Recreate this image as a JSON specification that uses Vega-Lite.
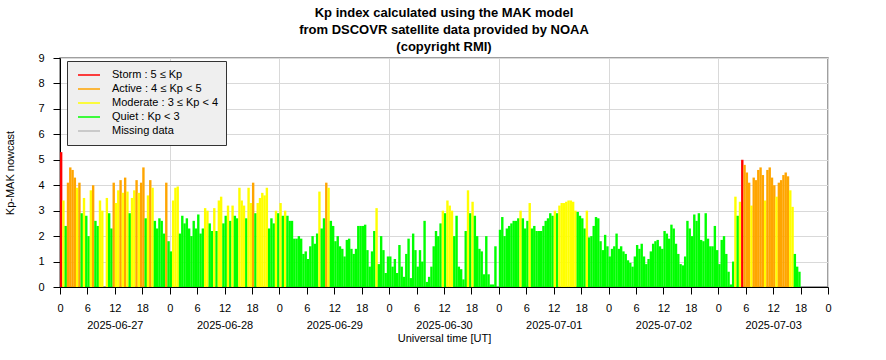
{
  "$schema": "https://vega.github.io/schema/vega-lite/v6.json",
  "width": 768,
  "height": 229,
  "autosize": "none",
  "padding": {"left": 60, "top": 58, "right": 58, "bottom": 73},
  "background": "white",
  "title": {
    "text": ["Kp index calculated using the MAK model", "from DSCOVR satellite data provided by NOAA", "(copyright RMI)"],
    "font": "Liberation Sans", "fontSize": 13, "fontWeight": "bold", "lineHeight": 17,
    "anchor": "middle", "frame": "group", "offset": -2, "color": "black"
  },
  "config": {
    "view": {"stroke": "#808080", "strokeWidth": 1.5},
    "font": "Liberation Sans"
  },
  "layer": [
    {
      "data": {"values": [
        {"t":"2025-06-27T00:00Z","kp":5.3},{"t":"2025-06-27T00:30Z","kp":3.4},{"t":"2025-06-27T01:00Z","kp":2.4},{"t":"2025-06-27T01:30Z","kp":4.1},
        {"t":"2025-06-27T02:00Z","kp":4.7},{"t":"2025-06-27T02:30Z","kp":4.6},{"t":"2025-06-27T03:00Z","kp":4.3},{"t":"2025-06-27T03:30Z","kp":3.9},
        {"t":"2025-06-27T04:00Z","kp":4.1},{"t":"2025-06-27T04:30Z","kp":2.9},{"t":"2025-06-27T05:00Z","kp":3.5},{"t":"2025-06-27T05:30Z","kp":2.8},
        {"t":"2025-06-27T06:00Z","kp":2.0},{"t":"2025-06-27T06:30Z","kp":3.8},{"t":"2025-06-27T07:00Z","kp":4.0},{"t":"2025-06-27T07:30Z","kp":2.6},
        {"t":"2025-06-27T08:00Z","kp":2.4},{"t":"2025-06-27T08:30Z","kp":3.4},{"t":"2025-06-27T09:00Z","kp":3.0},
        {"t":"2025-06-27T10:00Z","kp":3.5},{"t":"2025-06-27T10:30Z","kp":2.9},{"t":"2025-06-27T11:00Z","kp":2.3},{"t":"2025-06-27T11:30Z","kp":4.1},
        {"t":"2025-06-27T12:00Z","kp":3.3},{"t":"2025-06-27T12:30Z","kp":3.8},{"t":"2025-06-27T13:00Z","kp":4.2},{"t":"2025-06-27T13:30Z","kp":3.7},
        {"t":"2025-06-27T14:00Z","kp":4.3},{"t":"2025-06-27T14:30Z","kp":3.75},{"t":"2025-06-27T15:00Z","kp":2.9},{"t":"2025-06-27T15:30Z","kp":3.5},
        {"t":"2025-06-27T16:00Z","kp":3.8},{"t":"2025-06-27T16:30Z","kp":4.2},{"t":"2025-06-27T17:00Z","kp":3.7},{"t":"2025-06-27T17:30Z","kp":4.1},
        {"t":"2025-06-27T18:00Z","kp":4.7},{"t":"2025-06-27T18:30Z","kp":2.7},{"t":"2025-06-27T19:00Z","kp":3.6},{"t":"2025-06-27T19:30Z","kp":4.2},
        {"t":"2025-06-27T20:00Z","kp":3.9},{"t":"2025-06-27T20:30Z","kp":2.6},{"t":"2025-06-27T21:00Z","kp":2.3},{"t":"2025-06-27T21:30Z","kp":2.7},
        {"t":"2025-06-27T22:00Z","kp":2.6},{"t":"2025-06-27T22:30Z","kp":2.1},{"t":"2025-06-27T23:00Z","kp":4.1},{"t":"2025-06-27T23:30Z","kp":1.8},
        {"t":"2025-06-28T00:00Z","kp":1.4},{"t":"2025-06-28T00:30Z","kp":3.4},{"t":"2025-06-28T01:00Z","kp":3.9},{"t":"2025-06-28T01:30Z","kp":3.95},
        {"t":"2025-06-28T02:00Z","kp":2.1},{"t":"2025-06-28T02:30Z","kp":2.8},{"t":"2025-06-28T03:00Z","kp":2.5},{"t":"2025-06-28T03:30Z","kp":2.7},
        {"t":"2025-06-28T04:00Z","kp":2.3},{"t":"2025-06-28T04:30Z","kp":2.0},{"t":"2025-06-28T05:00Z","kp":2.6},{"t":"2025-06-28T05:30Z","kp":2.3},
        {"t":"2025-06-28T06:00Z","kp":2.85},{"t":"2025-06-28T06:30Z","kp":2.1},{"t":"2025-06-28T07:00Z","kp":2.3},{"t":"2025-06-28T07:30Z","kp":3.1},
        {"t":"2025-06-28T08:00Z","kp":3.0},{"t":"2025-06-28T08:30Z","kp":2.5},{"t":"2025-06-28T09:00Z","kp":2.2},{"t":"2025-06-28T09:30Z","kp":3.1},
        {"t":"2025-06-28T10:00Z","kp":2.2},{"t":"2025-06-28T10:30Z","kp":3.4},{"t":"2025-06-28T11:00Z","kp":3.55},{"t":"2025-06-28T11:30Z","kp":2.5},
        {"t":"2025-06-28T12:00Z","kp":2.8},{"t":"2025-06-28T12:30Z","kp":3.2},{"t":"2025-06-28T13:00Z","kp":2.6},{"t":"2025-06-28T13:30Z","kp":3.2},
        {"t":"2025-06-28T14:00Z","kp":2.8},{"t":"2025-06-28T14:30Z","kp":2.7},{"t":"2025-06-28T15:00Z","kp":3.9},{"t":"2025-06-28T15:30Z","kp":3.4},
        {"t":"2025-06-28T16:00Z","kp":3.2},{"t":"2025-06-28T16:30Z","kp":2.7},{"t":"2025-06-28T17:00Z","kp":3.9},{"t":"2025-06-28T17:30Z","kp":3.3},
        {"t":"2025-06-28T18:00Z","kp":4.1},{"t":"2025-06-28T18:30Z","kp":2.9},{"t":"2025-06-28T19:00Z","kp":3.3},{"t":"2025-06-28T19:30Z","kp":3.5},
        {"t":"2025-06-28T20:00Z","kp":3.7},{"t":"2025-06-28T20:30Z","kp":3.6},{"t":"2025-06-28T21:00Z","kp":3.9},{"t":"2025-06-28T21:30Z","kp":2.3},
        {"t":"2025-06-28T22:00Z","kp":2.7},{"t":"2025-06-28T22:30Z","kp":2.5},{"t":"2025-06-28T23:00Z","kp":3.0},{"t":"2025-06-28T23:30Z","kp":2.9},
        {"t":"2025-06-29T00:00Z","kp":3.3},{"t":"2025-06-29T00:30Z","kp":2.8},{"t":"2025-06-29T01:00Z","kp":3.0},{"t":"2025-06-29T01:30Z","kp":2.8},
        {"t":"2025-06-29T02:00Z","kp":2.6},{"t":"2025-06-29T02:30Z","kp":2.6},{"t":"2025-06-29T03:00Z","kp":1.9},{"t":"2025-06-29T03:30Z","kp":1.9},
        {"t":"2025-06-29T04:00Z","kp":2.0},{"t":"2025-06-29T04:30Z","kp":1.9},{"t":"2025-06-29T05:00Z","kp":1.3},{"t":"2025-06-29T05:30Z","kp":1.4},
        {"t":"2025-06-29T06:00Z","kp":1.1},{"t":"2025-06-29T06:30Z","kp":1.6},{"t":"2025-06-29T07:00Z","kp":2.0},{"t":"2025-06-29T07:30Z","kp":1.7},
        {"t":"2025-06-29T08:00Z","kp":2.1},{"t":"2025-06-29T08:30Z","kp":3.75},{"t":"2025-06-29T09:00Z","kp":2.3},{"t":"2025-06-29T09:30Z","kp":2.7},
        {"t":"2025-06-29T10:00Z","kp":4.1},{"t":"2025-06-29T10:30Z","kp":3.9},{"t":"2025-06-29T11:00Z","kp":2.6},{"t":"2025-06-29T11:30Z","kp":2.4},
        {"t":"2025-06-29T12:00Z","kp":1.8},{"t":"2025-06-29T12:30Z","kp":2.0},{"t":"2025-06-29T13:00Z","kp":1.6},{"t":"2025-06-29T13:30Z","kp":1.5},
        {"t":"2025-06-29T14:00Z","kp":1.2},{"t":"2025-06-29T14:30Z","kp":1.85},{"t":"2025-06-29T15:00Z","kp":1.9},{"t":"2025-06-29T15:30Z","kp":1.5},
        {"t":"2025-06-29T16:00Z","kp":1.3},{"t":"2025-06-29T16:30Z","kp":1.5},{"t":"2025-06-29T17:00Z","kp":2.4},{"t":"2025-06-29T17:30Z","kp":2.4},
        {"t":"2025-06-29T18:00Z","kp":2.4},{"t":"2025-06-29T18:30Z","kp":2.45},{"t":"2025-06-29T19:00Z","kp":1.45},{"t":"2025-06-29T19:30Z","kp":0.8},
        {"t":"2025-06-29T20:00Z","kp":1.4},{"t":"2025-06-29T20:30Z","kp":2.2},{"t":"2025-06-29T21:00Z","kp":3.1},{"t":"2025-06-29T21:30Z","kp":0.9},
        {"t":"2025-06-29T22:00Z","kp":2.0},{"t":"2025-06-29T22:30Z","kp":1.45},{"t":"2025-06-29T23:00Z","kp":0.55},{"t":"2025-06-29T23:30Z","kp":1.2},
        {"t":"2025-06-30T00:00Z","kp":1.2},{"t":"2025-06-30T00:30Z","kp":0.8},{"t":"2025-06-30T01:00Z","kp":1.1},{"t":"2025-06-30T01:30Z","kp":0.55},
        {"t":"2025-06-30T02:00Z","kp":1.65},{"t":"2025-06-30T02:30Z","kp":0.8},{"t":"2025-06-30T03:00Z","kp":0.4},{"t":"2025-06-30T03:30Z","kp":1.3},
        {"t":"2025-06-30T04:00Z","kp":1.9},{"t":"2025-06-30T04:30Z","kp":0.35},{"t":"2025-06-30T05:00Z","kp":2.1},{"t":"2025-06-30T05:30Z","kp":1.45},
        {"t":"2025-06-30T06:00Z","kp":0.8},{"t":"2025-06-30T06:30Z","kp":1.45},{"t":"2025-06-30T07:00Z","kp":1.0},{"t":"2025-06-30T07:30Z","kp":2.6},
        {"t":"2025-06-30T08:00Z","kp":0.2},{"t":"2025-06-30T08:30Z","kp":0.4},{"t":"2025-06-30T09:00Z","kp":0.8},{"t":"2025-06-30T09:30Z","kp":1.6},
        {"t":"2025-06-30T10:00Z","kp":2.2},{"t":"2025-06-30T10:30Z","kp":2.0},{"t":"2025-06-30T11:00Z","kp":2.5},{"t":"2025-06-30T11:30Z","kp":3.0},
        {"t":"2025-06-30T12:00Z","kp":2.9},{"t":"2025-06-30T12:30Z","kp":3.4},{"t":"2025-06-30T13:00Z","kp":3.2},{"t":"2025-06-30T13:30Z","kp":3.0},
        {"t":"2025-06-30T14:00Z","kp":2.0},{"t":"2025-06-30T14:30Z","kp":2.8},{"t":"2025-06-30T15:00Z","kp":0.8},{"t":"2025-06-30T15:30Z","kp":0.7},
        {"t":"2025-06-30T16:00Z","kp":0.3},{"t":"2025-06-30T16:30Z","kp":2.2},{"t":"2025-06-30T17:00Z","kp":3.8},{"t":"2025-06-30T17:30Z","kp":2.9},
        {"t":"2025-06-30T18:00Z","kp":3.35},{"t":"2025-06-30T18:30Z","kp":2.8},{"t":"2025-06-30T19:00Z","kp":2.0},{"t":"2025-06-30T19:30Z","kp":1.5},
        {"t":"2025-06-30T20:00Z","kp":1.4},{"t":"2025-06-30T20:30Z","kp":0.5},{"t":"2025-06-30T21:00Z","kp":2.0},{"t":"2025-06-30T21:30Z","kp":0.5},
        {"t":"2025-06-30T22:00Z","kp":0.1},{"t":"2025-06-30T22:30Z","kp":0.1},{"t":"2025-06-30T23:00Z","kp":1.6},
        {"t":"2025-07-01T00:00Z","kp":2.25},{"t":"2025-07-01T00:30Z","kp":2.75},{"t":"2025-07-01T01:00Z","kp":2.0},{"t":"2025-07-01T01:30Z","kp":2.3},
        {"t":"2025-07-01T02:00Z","kp":2.4},{"t":"2025-07-01T02:30Z","kp":2.5},{"t":"2025-07-01T03:00Z","kp":2.6},{"t":"2025-07-01T03:30Z","kp":2.6},
        {"t":"2025-07-01T04:00Z","kp":2.7},{"t":"2025-07-01T04:30Z","kp":3.0},{"t":"2025-07-01T05:00Z","kp":2.7},{"t":"2025-07-01T05:30Z","kp":2.3},
        {"t":"2025-07-01T06:00Z","kp":2.6},{"t":"2025-07-01T06:30Z","kp":3.3},{"t":"2025-07-01T07:00Z","kp":2.3},{"t":"2025-07-01T07:30Z","kp":2.4},
        {"t":"2025-07-01T08:00Z","kp":2.2},{"t":"2025-07-01T08:30Z","kp":2.2},{"t":"2025-07-01T09:00Z","kp":2.2},{"t":"2025-07-01T09:30Z","kp":2.4},
        {"t":"2025-07-01T10:00Z","kp":2.6},{"t":"2025-07-01T10:30Z","kp":2.7},{"t":"2025-07-01T11:00Z","kp":2.9},{"t":"2025-07-01T11:30Z","kp":2.8},
        {"t":"2025-07-01T12:00Z","kp":3.0},{"t":"2025-07-01T12:30Z","kp":2.9},{"t":"2025-07-01T13:00Z","kp":3.2},{"t":"2025-07-01T13:30Z","kp":3.3},
        {"t":"2025-07-01T14:00Z","kp":3.3},{"t":"2025-07-01T14:30Z","kp":3.35},{"t":"2025-07-01T15:00Z","kp":3.4},{"t":"2025-07-01T15:30Z","kp":3.4},
        {"t":"2025-07-01T16:00Z","kp":3.35},{"t":"2025-07-01T16:30Z","kp":3.0},{"t":"2025-07-01T17:00Z","kp":2.95},{"t":"2025-07-01T17:30Z","kp":2.8},
        {"t":"2025-07-01T18:00Z","kp":2.7},{"t":"2025-07-01T18:30Z","kp":2.3},{"t":"2025-07-01T19:00Z","kp":3.0},{"t":"2025-07-01T19:30Z","kp":1.95},
        {"t":"2025-07-01T20:00Z","kp":2.0},{"t":"2025-07-01T20:30Z","kp":2.4},{"t":"2025-07-01T21:00Z","kp":2.75},{"t":"2025-07-01T21:30Z","kp":2.7},
        {"t":"2025-07-01T22:00Z","kp":1.8},{"t":"2025-07-01T22:30Z","kp":1.45},{"t":"2025-07-01T23:00Z","kp":2.05},{"t":"2025-07-01T23:30Z","kp":1.6},
        {"t":"2025-07-02T00:00Z","kp":1.2},{"t":"2025-07-02T00:30Z","kp":1.5},{"t":"2025-07-02T01:00Z","kp":1.6},{"t":"2025-07-02T01:30Z","kp":2.1},
        {"t":"2025-07-02T02:00Z","kp":1.5},{"t":"2025-07-02T02:30Z","kp":1.6},{"t":"2025-07-02T03:00Z","kp":1.4},{"t":"2025-07-02T03:30Z","kp":1.3},
        {"t":"2025-07-02T04:00Z","kp":1.05},{"t":"2025-07-02T04:30Z","kp":0.95},{"t":"2025-07-02T05:00Z","kp":0.8},{"t":"2025-07-02T05:30Z","kp":1.2},
        {"t":"2025-07-02T06:00Z","kp":1.65},{"t":"2025-07-02T06:30Z","kp":1.5},{"t":"2025-07-02T07:00Z","kp":1.7},{"t":"2025-07-02T07:30Z","kp":1.2},
        {"t":"2025-07-02T08:00Z","kp":0.9},{"t":"2025-07-02T08:30Z","kp":1.1},{"t":"2025-07-02T09:00Z","kp":1.4},{"t":"2025-07-02T09:30Z","kp":1.7},
        {"t":"2025-07-02T10:00Z","kp":1.8},{"t":"2025-07-02T10:30Z","kp":1.85},{"t":"2025-07-02T11:00Z","kp":1.6},{"t":"2025-07-02T11:30Z","kp":1.5},
        {"t":"2025-07-02T12:00Z","kp":2.2},{"t":"2025-07-02T12:30Z","kp":2.1},{"t":"2025-07-02T13:00Z","kp":1.9},{"t":"2025-07-02T13:30Z","kp":2.45},
        {"t":"2025-07-02T14:00Z","kp":2.3},{"t":"2025-07-02T14:30Z","kp":1.7},{"t":"2025-07-02T15:00Z","kp":1.3},{"t":"2025-07-02T15:30Z","kp":0.9},
        {"t":"2025-07-02T16:00Z","kp":0.85},{"t":"2025-07-02T16:30Z","kp":1.2},{"t":"2025-07-02T17:00Z","kp":2.6},{"t":"2025-07-02T17:30Z","kp":2.3},
        {"t":"2025-07-02T18:00Z","kp":2.0},{"t":"2025-07-02T18:30Z","kp":2.85},{"t":"2025-07-02T19:00Z","kp":2.6},{"t":"2025-07-02T19:30Z","kp":2.9},
        {"t":"2025-07-02T20:00Z","kp":1.85},{"t":"2025-07-02T20:30Z","kp":1.8},{"t":"2025-07-02T21:00Z","kp":2.9},{"t":"2025-07-02T21:30Z","kp":1.9},
        {"t":"2025-07-02T22:00Z","kp":1.6},{"t":"2025-07-02T22:30Z","kp":1.6},{"t":"2025-07-02T23:00Z","kp":2.4},{"t":"2025-07-02T23:30Z","kp":1.45},
        {"t":"2025-07-03T00:00Z","kp":0.9},{"t":"2025-07-03T00:30Z","kp":1.85},{"t":"2025-07-03T01:00Z","kp":2.0},{"t":"2025-07-03T01:30Z","kp":1.3},
        {"t":"2025-07-03T02:00Z","kp":0.6},{"t":"2025-07-03T02:30Z","kp":0.1},{"t":"2025-07-03T03:00Z","kp":1.0},{"t":"2025-07-03T03:30Z","kp":3.55},
        {"t":"2025-07-03T04:00Z","kp":2.8},{"t":"2025-07-03T04:30Z","kp":3.35},{"t":"2025-07-03T05:00Z","kp":5.0},{"t":"2025-07-03T05:30Z","kp":4.8},
        {"t":"2025-07-03T06:00Z","kp":4.5},{"t":"2025-07-03T06:30Z","kp":4.1},{"t":"2025-07-03T07:00Z","kp":3.2},{"t":"2025-07-03T07:30Z","kp":4.3},
        {"t":"2025-07-03T08:00Z","kp":4.2},{"t":"2025-07-03T08:30Z","kp":4.6},{"t":"2025-07-03T09:00Z","kp":4.7},{"t":"2025-07-03T09:30Z","kp":4.4},
        {"t":"2025-07-03T10:00Z","kp":3.4},{"t":"2025-07-03T10:30Z","kp":4.6},{"t":"2025-07-03T11:00Z","kp":4.7},{"t":"2025-07-03T11:30Z","kp":4.3},
        {"t":"2025-07-03T12:00Z","kp":4.0},{"t":"2025-07-03T12:30Z","kp":3.55},{"t":"2025-07-03T13:00Z","kp":4.1},{"t":"2025-07-03T13:30Z","kp":4.2},
        {"t":"2025-07-03T14:00Z","kp":4.4},{"t":"2025-07-03T14:30Z","kp":4.5},{"t":"2025-07-03T15:00Z","kp":4.35},{"t":"2025-07-03T15:30Z","kp":3.8},
        {"t":"2025-07-03T16:00Z","kp":3.15},{"t":"2025-07-03T16:30Z","kp":1.3},{"t":"2025-07-03T17:00Z","kp":0.8},{"t":"2025-07-03T17:30Z","kp":0.6}
      ]},
      "mark": {"type": "bar", "width": 2.4, "xOffset": 1.15},
      "encoding": {
        "x": {
          "field": "t", "type": "temporal",
          "scale": {"type": "utc", "nice": false, "padding": 0,
            "domain": [{"year": 2025, "month": 6, "date": 27, "utc": true}, {"year": 2025, "month": 7, "date": 4, "utc": true}]},
          "axis": {
            "title": "Universal time [UT]",
            "tickCount": 28,
            "labelExpr": "utchours(datum.value) == 12 ? ['12', utcFormat(datum.value, '%Y-%m-%d')] : '' + utchours(datum.value)",
            "labelLineHeight": 17,
            "labelOverlap": false, "labelFlush": false, "labelBound": false,
            "tickSize": 7, "labelPadding": 8, "titlePadding": 2,
            "grid": true, "gridColor": "#d9d9d9",
            "gridOpacity": {"condition": {"test": "utchours(datum.value) == 0", "value": 1}, "value": 0},
            "domainColor": "black", "tickColor": "black", "labelColor": "black", "titleColor": "black",
            "labelFont": "Liberation Sans", "labelFontSize": 11,
            "titleFont": "Liberation Sans", "titleFontSize": 11, "titleFontWeight": "normal"
          }
        },
        "y": {
          "field": "kp", "type": "quantitative",
          "scale": {"domain": [0, 9], "nice": false},
          "axis": {
            "title": "Kp-MAK nowcast", "values": [0, 1, 2, 3, 4, 5, 6, 7, 8, 9],
            "tickSize": 7, "labelPadding": 9, "titlePadding": 22,
            "grid": true, "gridColor": "#d9d9d9",
            "domainColor": "black", "tickColor": "black", "labelColor": "black", "titleColor": "black",
            "labelFont": "Liberation Sans", "labelFontSize": 11,
            "titleFont": "Liberation Sans", "titleFontSize": 11, "titleFontWeight": "normal"
          }
        },
        "color": {
          "field": "kp", "type": "quantitative",
          "scale": {"type": "threshold", "domain": [3, 4, 5], "range": ["#00ff00", "#ffff00", "#ffa500", "#ff0000"]},
          "legend": null
        }
      }
    },
    {
      "data": {"values": [
        {"level": "Storm : 5 ≤ Kp"},
        {"level": "Active : 4 ≤ Kp < 5"},
        {"level": "Moderate : 3 ≤ Kp < 4"},
        {"level": "Quiet : Kp < 3"},
        {"level": "Missing data"}
      ]},
      "mark": {"type": "point", "opacity": 0, "filled": false},
      "encoding": {
        "color": {
          "field": "level", "type": "nominal",
          "scale": {
            "domain": ["Storm : 5 ≤ Kp", "Active : 4 ≤ Kp < 5", "Moderate : 3 ≤ Kp < 4", "Quiet : Kp < 3", "Missing data"],
            "range": ["#ff0000", "#ffa500", "#ffff00", "#00ff00", "#bebebe"]
          },
          "legend": {
            "title": null, "orient": "none", "legendX": 7, "legendY": 3,
            "fillColor": "#efefef", "strokeColor": "#333333", "padding": 7,
            "symbolType": "stroke", "symbolSize": 484, "symbolStrokeWidth": 1.5, "symbolOpacity": 1,
            "symbolOffset": 3, "clipHeight": 14,
            "labelFont": "Liberation Sans", "labelFontSize": 11, "labelColor": "black",
            "rowPadding": 0, "labelOffset": 11, "labelLimit": 300
          }
        }
      }
    }
  ],
  "resolve": {"scale": {"color": "independent"}}
}
